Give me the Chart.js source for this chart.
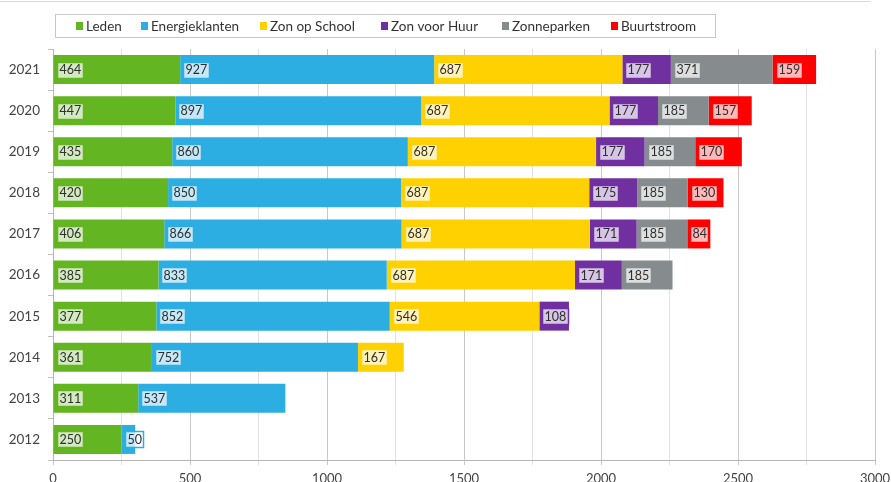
<!DOCTYPE html>
<html><head><meta charset="utf-8">
<script src="https://cdn.jsdelivr.net/npm/chart.js@4"></script>
<style>html,body{margin:0;padding:0;background:#fff}#wrap{width:891px;height:482px;position:relative}</style>
</head><body><div id="wrap"><canvas id="c" width="891" height="482"></canvas></div>
<script>
// ---- data ----
const years = ['2012','2013','2014','2015','2016','2017','2018','2019','2020','2021'];
const leden          = [250, 311, 361, 377, 385, 406, 420, 435, 447, 464];
const energieklanten = [ 50, 537, 752, 852, 833, 866, 850, 860, 897, 927];
const zonOpSchool    = [null, null, 167, 546, 687, 687, 687, 687, 687, 687];
const zonVoorHuur    = [null, null, null, 108, 171, 171, 175, 177, 177, 177];
const zonneparken    = [null, null, null, null, 185, 185, 185, 185, 185, 371];
const buurtstroom    = [null, null, null, null, null, 84, 130, 170, 157, 159];
const seriesNames = ['Leden','Energieklanten','Zon op School','Zon voor Huur','Zonneparken','Buurtstroom'];
const xTickLabels = [0, 500, 1000, 1500, 2000, 2500, 3000];

const colors = ['#63b521','#2daee3','#ffd100','#7030a0','#868b8e','#ff0000'];
const FONT = 'Lato';
const seriesData = [leden, energieklanten, zonOpSchool, zonVoorHuur, zonneparken, buurtstroom];

const datasets = seriesData.map((d, i) => ({
  label: seriesNames[i], data: d, backgroundColor: colors[i], borderWidth: 0,
  barPercentage: 0.705, categoryPercentage: 1.0
}));

const valueLabels = {
  id: 'valueLabels',
  afterDatasetsDraw(chart) {
    const ctx = chart.ctx;
    ctx.save();
    ctx.font = '12.5px ' + FONT;
    ctx.textBaseline = 'middle';
    chart.data.datasets.forEach((ds, di) => {
      const meta = chart.getDatasetMeta(di);
      meta.data.forEach((el, i) => {
        const v = ds.data[i];
        if (v === null || v === undefined) return;
        const left = Math.min(el.base, el.x);
        const w = ctx.measureText(String(v)).width;
        const bx = Math.round(left + 3) + 0.5, bw = Math.round(w + 4), bh = 16;
        const by = Math.round(el.y - bh / 2) + 0.5;
        ctx.fillStyle = 'rgba(255,255,255,0.72)';
        ctx.fillRect(bx, by, bw, bh);
        ctx.strokeStyle = ds.backgroundColor;
        ctx.lineWidth = 1.5;
        ctx.strokeRect(bx, by, bw, bh);
        ctx.fillStyle = '#2e2e2e';
        ctx.fillText(String(v), bx + 2, el.y + 0.5);
      });
    });
    ctx.restore();
  }
};

const boxLegend = {
  id: 'boxLegend',
  afterDraw(chart) {
    const ctx = chart.ctx;
    ctx.save();
    ctx.strokeStyle = '#d8d8d8'; ctx.lineWidth = 1;
    ctx.beginPath(); ctx.moveTo(0, 1.5); ctx.lineTo(870, 1.5); ctx.stroke();
    ctx.strokeStyle = '#c8c8c8';
    ctx.fillStyle = '#fff';
    ctx.fillRect(55.5, 14.5, 660, 23);
    ctx.strokeRect(55.5, 14.5, 660, 23);
    const sq = [76, 141, 260, 381, 502, 611];
    ctx.font = '13.5px ' + FONT;
    ctx.textBaseline = 'middle';
    seriesNames.forEach((n, i) => {
      ctx.fillStyle = colors[i];
      ctx.fillRect(sq[i], 22, 7, 8);
      ctx.fillStyle = '#333';
      ctx.fillText(n, sq[i] + 10, 26.5);
    });
    ctx.restore();
  }
};

new Chart(document.getElementById('c'), {
  type: 'bar',
  data: { labels: years, datasets },
  options: {
    indexAxis: 'y', responsive: false, animation: false, devicePixelRatio: 1,
    layout: { padding: { top: 49, right: 16, left: 0, bottom: 0 } },
    plugins: { legend: { display: false }, tooltip: { enabled: false } },
    scales: {
      x: {
        stacked: true, min: 0, max: 3000,
        ticks: { stepSize: 250, autoSkip: false, maxRotation: 0, color: '#444',
          font: { family: FONT, size: 13 }, padding: 6,
          callback: v => xTickLabels.includes(v) ? String(v) : '' },
        grid: { color: c => (c.tick && c.tick.value % 500 === 0) ? '#c8c8c8' : '#e2e2e2', tickLength: 5 },
        border: { color: '#b5b5b5' },
        afterFit(s) { s.height = 22; s.paddingRight = 0; s.paddingLeft = 0; }
      },
      y: {
        stacked: true, reverse: true,
        ticks: { color: '#444', font: { family: FONT, size: 13.5 }, padding: 8 },
        grid: { drawOnChartArea: false, offset: true, tickLength: 5, color: '#c0c0c0' },
        border: { color: '#b5b5b5' },
        afterFit(s) { s.width = 53; }
      }
    }
  },
  plugins: [valueLabels, boxLegend]
});
</script></body></html>
